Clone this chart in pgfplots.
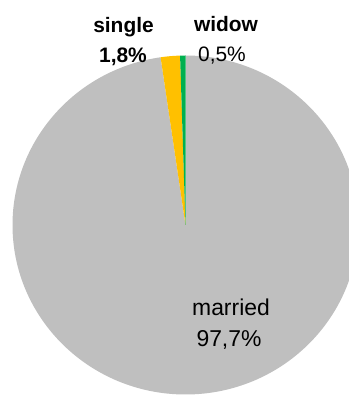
\documentclass[border=0pt]{standalone}
\usepackage{pgfplots}
\pgfplotsset{compat=1.18}
\usepackage{pgfplotstable}
\usepackage{fontspec}
\setmainfont{Liberation Sans}
\definecolor{cmarried}{HTML}{BFBFBF}
\definecolor{csingle}{HTML}{FFC000}
\definecolor{cwidow}{HTML}{00B050}

\pgfplotstableread{
label value
married 97.7
single 1.8
widow 0.5
}\piedata

\begin{document}
\begin{tikzpicture}
\pgfplotstablegetelem{0}{value}\of\piedata \let\vmarried\pgfplotsretval
\pgfplotstablegetelem{1}{value}\of\piedata \let\vsingle\pgfplotsretval
\pgfplotstablegetelem{2}{value}\of\piedata \let\vwidow\pgfplotsretval
\pgfmathsetmacro{\aA}{90}
\pgfmathsetmacro{\aB}{90-3.6*\vmarried}
\pgfmathsetmacro{\aC}{\aB-3.6*\vsingle}
\pgfmathsetmacro{\aD}{\aC-3.6*\vwidow}
\begin{axis}[
  scale only axis,
  width=349bp, height=395bp,
  xmin=0, xmax=349, ymin=0, ymax=395,
  hide axis,
  clip=true,
]
\clip (axis cs:0,0) rectangle (axis cs:349,395);
\fill[cmarried] (axis cs:185.5,170) -- ++(\aA:173bp and 169.5bp) arc[start angle=\aA, end angle=\aB, x radius=173bp, y radius=169.5bp] -- cycle;
\fill[csingle] (axis cs:185.5,170) -- ++(\aB:173bp and 169.5bp) arc[start angle=\aB, end angle=\aC, x radius=173bp, y radius=169.5bp] -- cycle;
\fill[cwidow] (axis cs:185.5,170) -- ++(\aC:173bp and 169.5bp) arc[start angle=\aC, end angle=\aD, x radius=173bp, y radius=169.5bp] -- cycle;
\node[anchor=base, font=\fontsize{21}{24}\selectfont\bfseries] at (axis cs:123.5,362) {single};
\node[anchor=base, font=\fontsize{21}{24}\selectfont\bfseries] at (axis cs:123,332) {1,8\%};
\node[anchor=base, font=\fontsize{21}{24}\selectfont\bfseries] at (axis cs:226,363) {widow};
\node[anchor=base, font=\fontsize{21}{24}\selectfont] at (axis cs:222,333) {0,5\%};
\node[anchor=base, font=\fontsize{23}{26}\selectfont] at (axis cs:231,79) {married};
\node[anchor=base, font=\fontsize{23}{26}\selectfont] at (axis cs:229,48) {97,7\%};
\end{axis}
\pgfresetboundingbox
\path[use as bounding box] (current axis.south west) rectangle (current axis.north east);
\end{tikzpicture}
\end{document}
